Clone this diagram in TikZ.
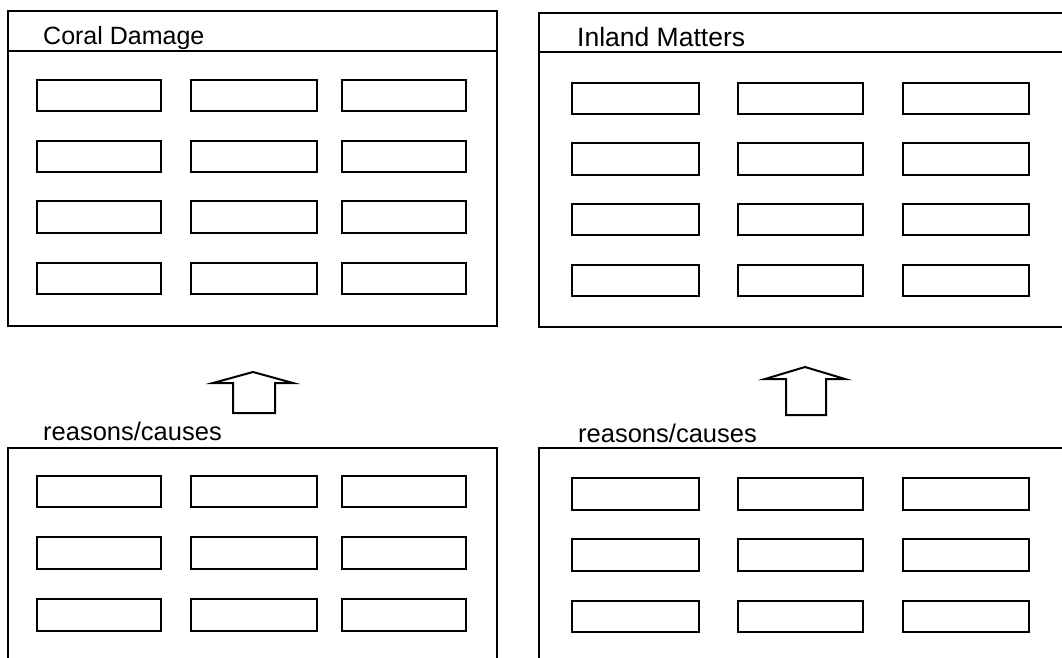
\documentclass[tikz,border=0pt]{standalone}
\usepackage{fontspec}
\setmainfont{Liberation Sans}
\begin{document}
\begin{tikzpicture}[x=1pt,y=-1pt,
  panel/.style={draw, line width=1.7pt, inner sep=0pt, anchor=north west},
  rule/.style={draw, line width=1.7pt},
  cell/.style={draw, line width=2pt, inner sep=0pt, minimum height=31.5pt},
  lbl/.style={anchor=base west, inner sep=0pt},
  blockarrow/.style={draw, line width=2pt, line join=miter}]
\useasboundingbox (0,0) rectangle (1062,657);
\clip (0,0) rectangle (1062,657);
\fill[white] (0,0) rectangle (1062,657);

% panels
\node[panel, minimum width=489pt, minimum height=315pt] (tlp) at (7,10) {};
\node[panel, minimum width=540pt, minimum height=314pt] (trp) at (538,12) {};
\node[panel, minimum width=489pt, minimum height=260pt] (blp) at (7,447) {};
\node[panel, minimum width=540pt, minimum height=260pt] (brp) at (538,447) {};

% header rules
\draw[rule] (tlp.west |- 0,51) -- (tlp.east |- 0,51);
\draw[rule] (trp.west |- 0,52) -- (trp.east |- 0,52);

% titles
\node[lbl, font=\fontsize{25}{29}\selectfont] (tlt) at (43,44) {Coral Damage};
\node[lbl, font=\fontsize{26.5}{30}\selectfont] (trt) at (577,46) {Inland Matters};
\node[lbl, font=\fontsize{25.5}{30}\selectfont] (blt) at (43,440) {reasons/causes};
\node[lbl, font=\fontsize{25.5}{30}\selectfont] (brt) at (578,442) {reasons/causes};

% cells top-left
\foreach \c/\x/\w in {1/99/124,2/254/126,3/404/124}
  \foreach \r/\y in {1/95.5,2/156.5,3/217,4/278.5}
    \node[cell, minimum width=\w pt] (tl\r\c) at (\x,\y) {};
% cells top-right
\foreach \c/\x/\w in {1/635.5/127,2/800.5/125,3/966/126}
  \foreach \r/\y in {1/98.5,2/159,3/219.5,4/280.5}
    \node[cell, minimum width=\w pt] (tr\r\c) at (\x,\y) {};
% cells bottom-left
\foreach \c/\x/\w in {1/99/124,2/254/126,3/404/124}
  \foreach \r/\y in {1/491.5,2/553,3/615}
    \node[cell, minimum width=\w pt] (bl\r\c) at (\x,\y) {};
% cells bottom-right
\foreach \c/\x/\w in {1/635.5/127,2/800.5/125,3/966/126}
  \foreach \r/\y in {1/494,2/555,3/616.5}
    \node[cell, minimum width=\w pt] (br\r\c) at (\x,\y) {};

% block arrows
\coordinate (la) at (254,413);
\draw[blockarrow] (233,413) -- (233,383) -- (213,383) -- (253,372) -- (293,383) -- (275,383) -- (275,413) -- cycle;
\coordinate (ra) at (806,415);
\draw[blockarrow] (786,415) -- (786,379) -- (765,379) -- (805,367) -- (845,379) -- (826,379) -- (826,415) -- cycle;
\end{tikzpicture}
\end{document}
